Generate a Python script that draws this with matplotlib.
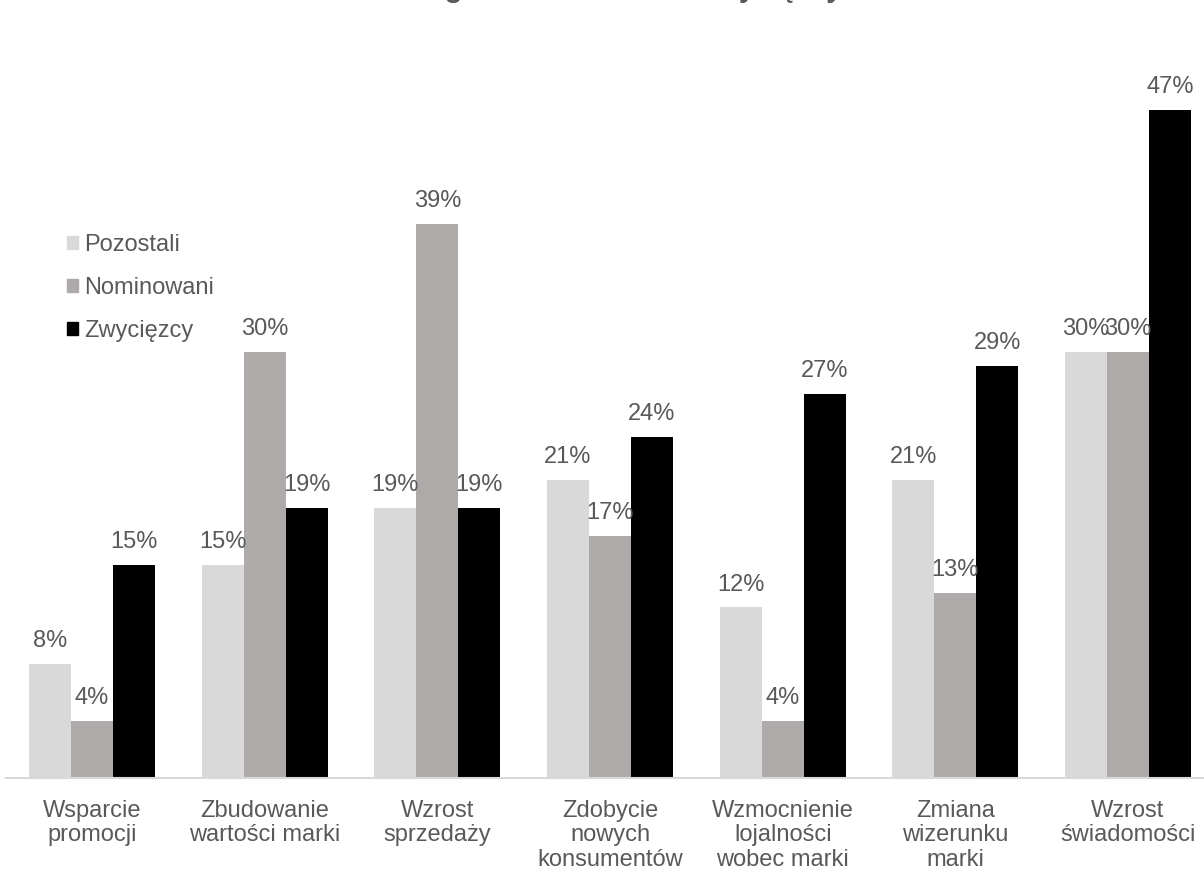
import matplotlib.pyplot as plt
import numpy as np
from matplotlib.patches import Patch

plt.rcParams['font.family'] = ['Liberation Sans', 'DejaVu Sans']

categories = ['Wsparcie\npromocji', 'Zbudowanie\nwartości marki', 'Wzrost\nsprzedaży',
              'Zdobycie\nnowych\nkonsumentów', 'Wzmocnienie\nlojalności\nwobec marki',
              'Zmiana\nwizerunku\nmarki', 'Wzrost\nświadomości']

series_names = ['Pozostali', 'Nominowani', 'Zwycięzcy']

pozostali = [8, 15, 19, 21, 12, 21, 30]
nominowani = [4, 30, 39, 17, 4, 13, 30]
zwyciezcy = [15, 19, 19, 24, 27, 29, 47]

colors = ['#d9d9d9', '#aeaaaa', '#000000']
text_col = '#595959'

fig = plt.figure(figsize=(12.04, 8.72), dpi=100)
ax = fig.add_axes([5.67 / 1204, 94 / 872, 1208.7 / 1204, 710.5 / 872])

x = np.arange(len(categories))
w = 0.2432

for i, (name, vals) in enumerate(zip(series_names, [pozostali, nominowani, zwyciezcy])):
    pos = x + (i - 1) * w
    ax.bar(pos, vals, w, color=colors[i], label=name)
    for xp, v in zip(pos, vals):
        ax.annotate('%d%%' % v, (xp, v), xytext=(0, 12.2), textcoords='offset points',
                    ha='center', va='baseline', fontsize=17, color=text_col)

ax.set_xlim(-0.5, 6.5)
ax.set_ylim(0, 50)
ax.set_xticks(x)
ax.set_xticklabels(categories, fontsize=17, color=text_col, linespacing=1.15)
ax.tick_params(axis='x', length=0, pad=15.5)
ax.set_yticks([])
for s in ['top', 'right', 'left']:
    ax.spines[s].set_visible(False)
ax.spines['bottom'].set_color('#d9d9d9')
ax.spines['bottom'].set_linewidth(1.5)

handles = [Patch(color=c) for c in colors]
leg = fig.legend(handles, series_names, loc='upper left', bbox_to_anchor=(67 / 1204, 1 - 234 / 872),
                 frameon=False, fontsize=17, handlelength=0.47, handleheight=0.47,
                 handletextpad=0.25, labelspacing=0.88, borderpad=0, borderaxespad=0)
for t in leg.get_texts():
    t.set_color(text_col)

fig.text(0.5, 1 + 3 / 872, 'Strategiczne cele marek zwycięzcy', ha='center', va='baseline',
         fontsize=21, fontweight='bold', color=text_col)

fig.savefig('out.png', dpi=100)
